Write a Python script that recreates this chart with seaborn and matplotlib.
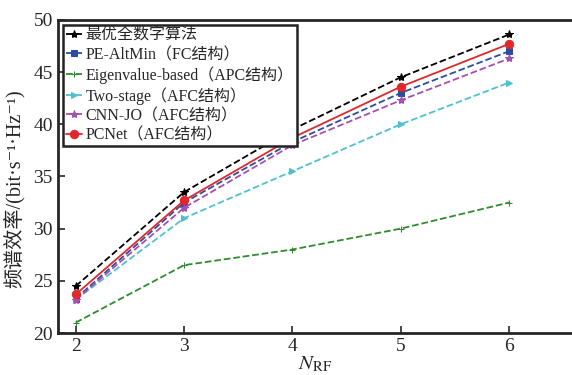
import matplotlib
matplotlib.use('AGG')

import matplotlib.pyplot as plt
import seaborn as sns

n_rf = [2, 3, 4, 5, 6]

optimal = [24.5, 33.5, 39.5, 44.5, 48.6]
pe_altmin = [23.3, 32.5, 38.3, 43.0, 47.0]
eigen = [21.0, 26.5, 28.0, 30.0, 32.5]
two_stage = [23.2, 31.0, 35.5, 40.0, 44.0]
cnn_jo = [23.2, 32.0, 38.0, 42.3, 46.3]
pcnet = [23.7, 32.7, 38.7, 43.6, 47.7]

labels = ['最优全数字算法', 'PE-AltMin（FC结构）', 'Eigenvalue-based（APC结构）',
          'Two-stage（AFC结构）', 'CNN-JO（AFC结构）', 'PCNet（AFC结构）']

sns.set_style('ticks')
plt.rcParams['font.family'] = ['Liberation Serif', 'Noto Sans CJK SC', 'DejaVu Sans']
plt.rcParams['mathtext.fontset'] = 'stix'

fig = plt.figure(figsize=(5.72, 3.75), dpi=100)
ax = fig.add_axes([0.101, 0.112, 0.899, 0.835])

styles = [
    (optimal, 'black', '--', '*', 6),
    (pe_altmin, '#2b4da0', '--', 's', 5),
    (eigen, '#2e8b2e', '--', '+', 5),
    (two_stage, '#4fc0d0', '--', '>', 5),
    (cnn_jo, '#a64fb0', '--', '*', 6),
    (pcnet, '#e0282c', '-', 'o', 6),
]

for (vals, col, ls, mk, ms), lab in zip(styles, labels):
    sns.lineplot(x=n_rf, y=vals, ax=ax, color=col, linestyle=ls, marker=mk,
                 markersize=ms, markeredgecolor=col, linewidth=1.3, label=lab)

ax.set_xlim(1.834, 6.58)
ax.set_ylim(20, 50)
ax.set_xticks(n_rf)
ax.set_yticks([20, 25, 30, 35, 40, 45, 50])
ax.tick_params(direction='in', labelsize=14, length=5, width=1.2)
for s in ax.spines.values():
    s.set_linewidth(2)
ax.spines['right'].set_visible(False)

ax.set_xlabel(r'$N_{\mathrm{RF}}$', fontsize=15, labelpad=0)
ax.set_ylabel('频谱效率/(bit·s⁻¹·Hz⁻¹)', fontsize=14.5)
ax.yaxis.set_label_coords(-0.064, 0.46)

leg = ax.legend(loc='upper left', fontsize=11.5, frameon=True, fancybox=False,
                framealpha=1, handlelength=1.0, handletextpad=0.25, borderpad=0.2,
                labelspacing=0.2, borderaxespad=0.3)
leg.get_frame().set_edgecolor('#222222')
leg.get_frame().set_linewidth(1.8)

fig.savefig('out.png', dpi=100)
